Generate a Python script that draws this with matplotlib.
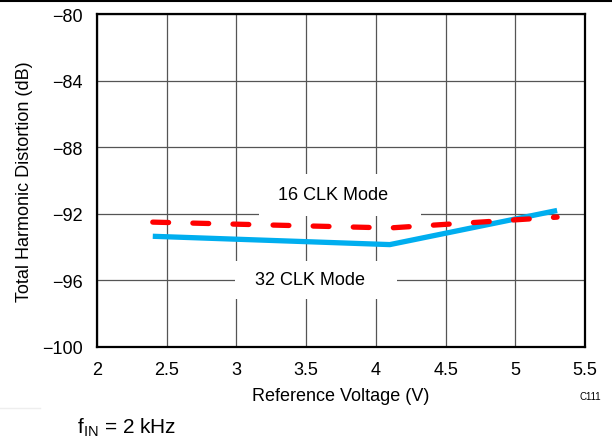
import matplotlib.pyplot as plt
from matplotlib.lines import Line2D
from matplotlib.patches import Rectangle

plt.rcParams['font.family'] = ['Liberation Sans', 'DejaVu Sans']

# data
vref = [2.4, 4.1, 5.3]
thd_16clk = [-92.5, -92.85, -92.2]
thd_32clk = [-93.35, -93.85, -91.8]

x_ticks = [2, 2.5, 3, 3.5, 4, 4.5, 5, 5.5]
x_tick_labels = ['2', '2.5', '3', '3.5', '4', '4.5', '5', '5.5']
y_ticks = [-100, -96, -92, -88, -84, -80]
y_tick_labels = ['\u2212100', '\u221296', '\u221292', '\u221288', '\u221284', '\u221280']

fig = plt.figure(figsize=(6.12, 4.39), dpi=100)
ax = fig.add_axes([97 / 612, 1 - 348 / 439, (585 - 97) / 612, (348 - 15) / 439])

ax.set_xlim(2, 5.5)
ax.set_ylim(-100, -80)
ax.set_xticks(x_ticks)
ax.set_xticklabels(x_tick_labels)
ax.set_yticks(y_ticks)
ax.set_yticklabels(y_tick_labels)
ax.tick_params(length=0, labelsize=13)
ax.tick_params(axis='x', pad=10)
ax.tick_params(axis='y', pad=10.5)
ax.grid(True, color='#555555', linewidth=0.9)
ax.set_axisbelow(True)
for s in ax.spines.values():
    s.set_linewidth(1.6)

# white boxes behind the curve labels (they cut the grid)
ax.add_patch(Rectangle((3.162, -92.13), 1.162, 2.52, facecolor='white',
                       edgecolor='none', zorder=1.5))
ax.add_patch(Rectangle((2.99, -97.12), 1.162, 2.29, facecolor='white',
                       edgecolor='none', zorder=1.5))

ax.plot(vref, thd_32clk, color='#00aeef', linewidth=3.8, solid_capstyle='butt', zorder=3)
ax.plot(vref, thd_16clk, color='#ff0000', linewidth=3.8, dashes=(3.0, 4.6),
        dash_capstyle='round', zorder=4)

ax.text(3.693, -90.87, '16 CLK Mode', fontsize=13, ha='center', va='center', zorder=2)
ax.text(3.528, -95.92, '32 CLK Mode', fontsize=13, ha='center', va='center', zorder=2)

ax.set_xlabel('Reference Voltage (V)', fontsize=13)
ax.set_ylabel('Total Harmonic Distortion (dB)', fontsize=13)
ax.xaxis.set_label_coords(0.5, -0.12)
ax.yaxis.set_label_coords(-0.131, 0.5)

fig.text(590 / 612, 1 - 397 / 439, 'C111', fontsize=7, ha='center', va='center')
fig.text(77 / 612, 1 - 428 / 439, r'f$_{\mathregular{IN}}$ = 2 kHz', fontsize=15,
         ha='left', va='center')

# top rule of the page and faint rule at bottom left
fig.add_artist(Line2D([0, 1], [1 - 1.5 / 439, 1 - 1.5 / 439], color='black', linewidth=1.5))
fig.add_artist(Line2D([0, 40 / 612], [1 - 409 / 439, 1 - 409 / 439], color='#eeeeee', linewidth=1))

fig.savefig('out.png', dpi=100)
